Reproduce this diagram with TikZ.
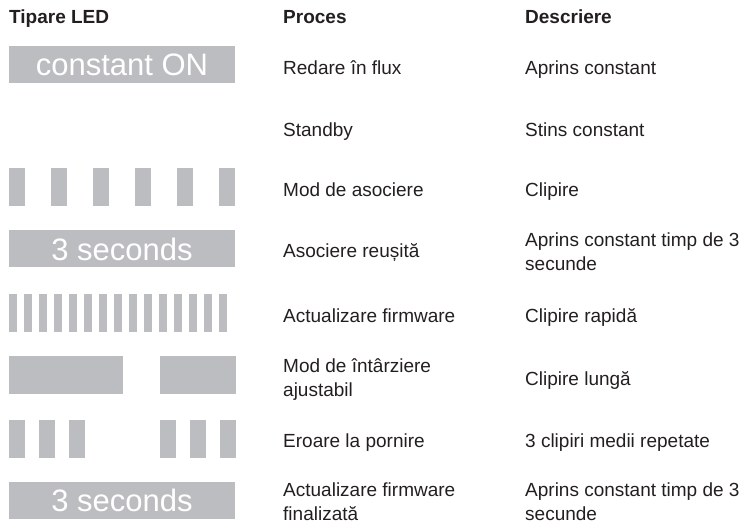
\documentclass[tikz,border=0pt]{standalone}
\usepackage{fontspec}
\setmainfont{Liberation Sans}
\usepackage{xcolor}
\definecolor{ledgray}{HTML}{BCBDC0}
\definecolor{ink}{HTML}{231F20}
\tikzstyle{head} = [anchor=base west, inner sep=0pt, text=ink, font=\fontsize{19}{24}\selectfont\bfseries]
\tikzstyle{cell} = [anchor=base west, inner sep=0pt, align=left, text=ink, font=\fontsize{19}{24}\selectfont]
\tikzstyle{ledbox} = [fill=ledgray, minimum width=226pt, minimum height=37pt, inner sep=0pt, text=white, font=\fontsize{31}{31}\selectfont]
\tikzstyle{ledon} = [fill=ledgray]

\begin{document}
\begin{tikzpicture}[x=1pt, y=-1pt]
\useasboundingbox (0,0) rectangle (748,524);
% headers
\node[head] (hled) at (9,24) {Tipare LED};
\node[head] (hproc) at (283,24) {Proces};
\node[head] (hdesc) at (525,24) {Descriere};

% constant on
\node[ledbox] (led1) at (122,64.5) {constant ON};
\node[cell] (proc1) at (283,75) {Redare în flux};
\node[cell] (desc1) at (525,75) {Aprins constant};

% standby
\node[cell] (proc2) at (283,137) {Standby};
\node[cell] (desc2) at (525,137) {Stins constant};

% blink
\foreach \i in {0,...,5}
    \fill[ledon] (9+42*\i,168) rectangle +(16,38);
\node[cell] (proc3) at (283,197) {Mod de asociere};
\node[cell] (desc3) at (525,197) {Clipire};

% 3 s
\node[ledbox] (led4) at (122,249) {3 seconds};
\node[cell] (proc4) at (283,258) {Asociere reușită};
\node[cell] (desc4) at (525,270) {Aprins constant timp de 3\\secunde};

% fast blink
\foreach \i in {0,...,14}
    \fill[ledon] (9+15*\i,294) rectangle +(8,38);
\node[cell] (proc5) at (283,322) {Actualizare firmware};
\node[cell] (desc5) at (525,322) {Clipire rapidă};

% long blink
\fill[ledon] (9,356) rectangle (123,394);
\fill[ledon] (160,356) rectangle (236,394);
\node[cell] (proc6) at (283,396) {Mod de întârziere\\ajustabil};
\node[cell] (desc6) at (525,385) {Clipire lungă};

% error
\foreach \i in {0,1,2} {
    \fill[ledon] (9+30*\i,420) rectangle +(16,38);
    \fill[ledon] (160+30*\i,420) rectangle +(16,38);
}
\node[cell] (proc7) at (283,447) {Eroare la pornire};
\node[cell] (desc7) at (525,447) {3 clipiri medii repetate};

% done
\node[ledbox] (led8) at (122,500.5) {3 seconds};
\node[cell] (proc8) at (283,520) {Actualizare firmware\\finalizată};
\node[cell] (desc8) at (525,520) {Aprins constant timp de 3\\secunde};
\end{tikzpicture}
\end{document}
